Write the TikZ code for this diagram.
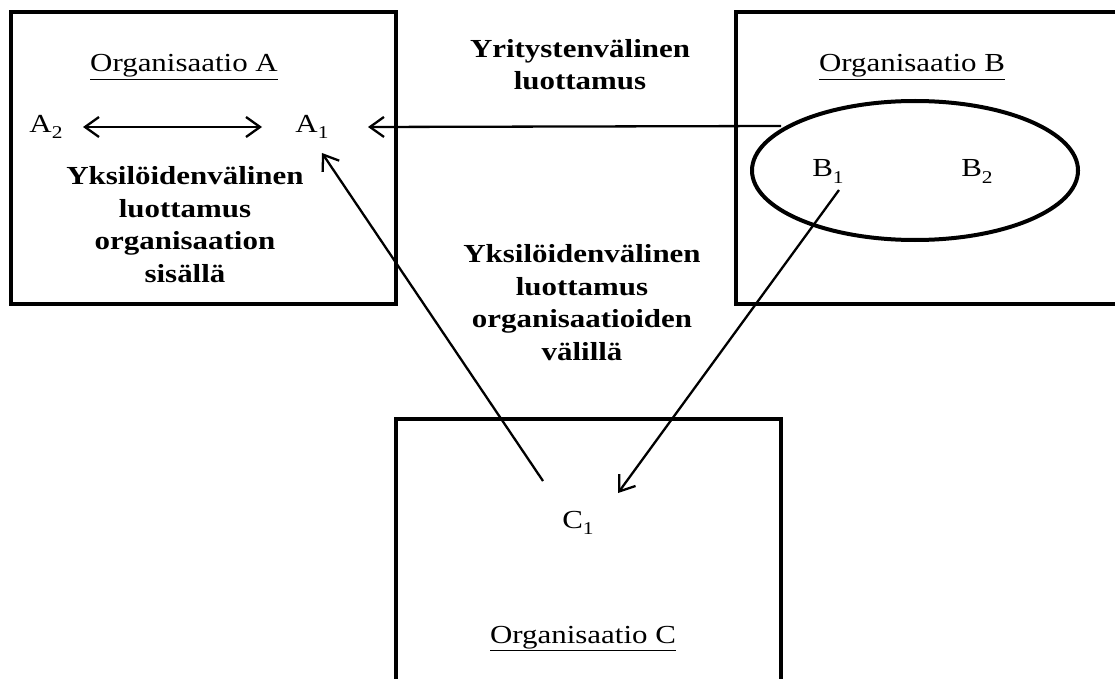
\documentclass[tikz,border=0pt]{standalone}
\usepackage{fontspec}
\setmainfont{Liberation Serif}[FakeStretch=1.19]
\usetikzlibrary{arrows.meta,shapes.geometric}
% index of an individual, set below the baseline
\newcommand{\idx}[1]{\raisebox{-6pt}{\fontsize{18}{18}\selectfont #1}}
\begin{document}
\begin{tikzpicture}[x=1pt,y=-1pt,
  orgbox/.style={line width=4.5pt},
  member/.style={font=\fontsize{26}{32.5}\selectfont, anchor=base, inner sep=0pt},
  orgtitle/.style={font=\fontsize{26}{32.5}\selectfont, anchor=base, inner sep=0pt},
  trustlabel/.style={font=\fontsize{26}{32.5}\selectfont\bfseries, anchor=base, align=center, inner sep=0pt},
  barb/.tip={Straight Barb[length=14pt,width=20pt,line width=2.3pt]},
  trust/.style={line width=2.3pt, -barb},
  trustboth/.style={line width=2.3pt, barb-barb}]
\useasboundingbox (0,0) rectangle (1115,679);
\fill[white] (0,0) rectangle (1115,679);
\clip (0,0) rectangle (1115,679);

% organisations
\draw[orgbox] (11,12) rectangle (396,304);
\draw[orgbox] (736,12) rectangle (1140,304);
\draw[orgbox] (396,419) rectangle (781,720);
\node[draw, ellipse, line width=4pt, minimum width=326pt, minimum height=139pt, inner sep=0pt] (ell) at (915,170.5) {};

% titles
\node[orgtitle] (tA) at (184,72) {\underline{Organisaatio A}};
\node[orgtitle] (tB) at (912,72) {\underline{Organisaatio B}};
\node[orgtitle] (tC) at (583,643) {\underline{Organisaatio C}};

% individuals
\node[member] (A2) at (46,133) {A\idx{2}};
\node[member] (A1) at (312,133) {A\idx{1}};
\node[member] (B1) at (828,177) {B\idx{1}};
\node[member] (B2) at (977,177) {B\idx{2}};
\node[member] (C1) at (578,528) {C\idx{1}};

% kinds of trust (placed by the baseline of the last line)
\node[trustlabel] (lY) at (580,90) {Yritystenvälinen\\luottamus};
\node[trustlabel] (lIn) at (185,282) {Yksilöidenvälinen\\luottamus\\organisaation\\sisällä};
\node[trustlabel] (lBetween) at (582,360) {Yksilöidenvälinen\\luottamus\\organisaatioiden\\välillä};

% connector ends
\coordinate (a2r) at (83,127);
\coordinate (a1l) at (262,127);
\coordinate (a1r) at (368,127);
\coordinate (a1b) at (322,153);
\coordinate (ellw) at (781,126);
\coordinate (b1b) at (839,190);
\coordinate (c1r) at (618,493);
\coordinate (c1t) at (543,481);

% trust relations
\draw[trustboth] (a2r) -- (a1l);
\draw[trust] (ellw) -- (a1r);
\draw[trust] (c1t) -- (a1b);
\draw[trust] (b1b) -- (c1r);
\end{tikzpicture}
\end{document}
